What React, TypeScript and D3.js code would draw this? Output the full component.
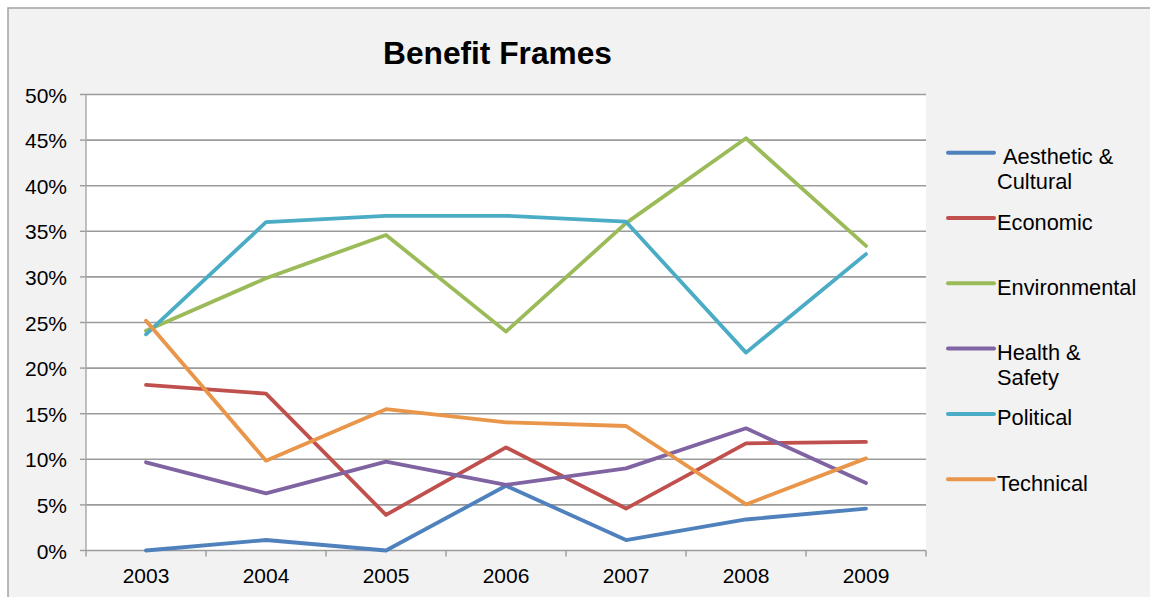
import React from "react";
import * as d3 from "d3";

// Share of articles using each benefit frame, by year (percent)
const years = ["2003", "2004", "2005", "2006", "2007", "2008", "2009"];
const aesthetic = [0.0, 1.15, 0.0, 7.1, 1.15, 3.4, 4.6];
const economic = [18.15, 17.2, 3.9, 11.3, 4.6, 11.75, 11.9];
const environmental = [24.1, 29.85, 34.6, 24.0, 35.9, 45.2, 33.4];
const health = [9.67, 6.27, 9.74, 7.2, 9.0, 13.4, 7.4];
const political = [23.7, 36.0, 36.7, 36.7, 36.05, 21.7, 32.5];
const technical = [25.2, 9.85, 15.5, 14.05, 13.65, 5.05, 10.1];
const yTicks = [0, 5, 10, 15, 20, 25, 30, 35, 40, 45, 50];

const series = [
  { name: ["\u00a0Aesthetic &", "Cultural"], values: aesthetic, color: "#4F81BD" },
  { name: ["Economic"], values: economic, color: "#C0504D" },
  { name: ["Environmental"], values: environmental, color: "#9BBB59" },
  { name: ["Health &", "Safety"], values: health, color: "#8064A2" },
  { name: ["Political"], values: political, color: "#4BACC6" },
  { name: ["Technical"], values: technical, color: "#E9964A" },
];

const W = 1150;
const H = 597;
const plot = { left: 86, right: 926, top: 94.5, bottom: 550.5 };
const font = "'Liberation Sans', Arial, Helvetica, sans-serif";

export default function App() {
  const x = d3
    .scaleBand<string>()
    .domain(years)
    .range([plot.left, plot.right]);
  const cx = (yr: string) => (x(yr) as number) + x.bandwidth() / 2;
  const y = d3.scaleLinear().domain([0, 50]).range([plot.bottom, plot.top]);

  const line = d3
    .line<number>()
    .x((_, i) => cx(years[i]))
    .y((v) => y(v));

  const boundaries = years.map((yr) => x(yr) as number).concat([plot.right]);

  const legendX0 = 948;
  const legendX1 = 994;
  const legendTextX = 997;
  const legendTop = 152.7;
  const legendStep = 65.3;

  return (
    <svg
      width={W}
      height={H}
      style={{ position: "absolute", left: 0, top: 0, display: "block" }}
      fontFamily={font}
    >
      {/* chart area */}
      <rect x={8} y={8} width={W + 20} height={H + 20} fill="#f2f2f2" stroke="#a3a3a3" strokeWidth={1.5} />
      <rect
        x={plot.left}
        y={plot.top}
        width={plot.right - plot.left}
        height={plot.bottom - plot.top}
        fill="#ffffff"
      />

      <text x={497.5} y={63.5} textAnchor="middle" fontSize={31.7} fontWeight="bold" fill="#000">
        Benefit Frames
      </text>

      {/* horizontal gridlines, y ticks and labels */}
      {yTicks.map((t) => (
        <g key={t}>
          {t > 0 && (
            <line x1={plot.left} x2={plot.right} y1={y(t)} y2={y(t)} stroke="#9b9b9b" strokeWidth={1.6} />
          )}
          <line x1={80} x2={plot.left} y1={y(t)} y2={y(t)} stroke="#9b9b9b" strokeWidth={1.4} />
          <text x={67} y={y(t) + 8} textAnchor="end" fontSize={21} fill="#000">
            {`${t}%`}
          </text>
        </g>
      ))}

      {/* axes */}
      <line x1={plot.left} x2={plot.left} y1={plot.top} y2={plot.bottom} stroke="#a6a6a6" strokeWidth={1.4} />
      <line x1={plot.left} x2={plot.right} y1={plot.bottom} y2={plot.bottom} stroke="#9b9b9b" strokeWidth={1.6} />
      {boundaries.map((b, i) => (
        <line key={i} x1={b} x2={b} y1={plot.bottom} y2={plot.bottom + 6} stroke="#9b9b9b" strokeWidth={1.4} />
      ))}
      {years.map((yr) => (
        <text key={yr} x={cx(yr)} y={583.3} textAnchor="middle" fontSize={21} fill="#000">
          {yr}
        </text>
      ))}

      {/* series lines */}
      {series.map((s) => (
        <path
          key={s.name.join(" ")}
          d={line(s.values) as string}
          fill="none"
          stroke={s.color}
          strokeWidth={3.8}
          strokeLinejoin="round"
          strokeLinecap="round"
        />
      ))}

      {/* legend */}
      {series.map((s, i) => {
        const ly = legendTop + i * legendStep;
        return (
          <g key={s.name.join(" ")}>
            <line
              x1={legendX0}
              x2={legendX1}
              y1={ly}
              y2={ly}
              stroke={s.color}
              strokeWidth={4}
              strokeLinecap="round"
            />
            {s.name.map((ln, j) => (
              <text key={j} x={legendTextX} y={ly + 11.5 + j * 25} fontSize={21.8} fill="#000">
                {ln}
              </text>
            ))}
          </g>
        );
      })}
    </svg>
  );
}
